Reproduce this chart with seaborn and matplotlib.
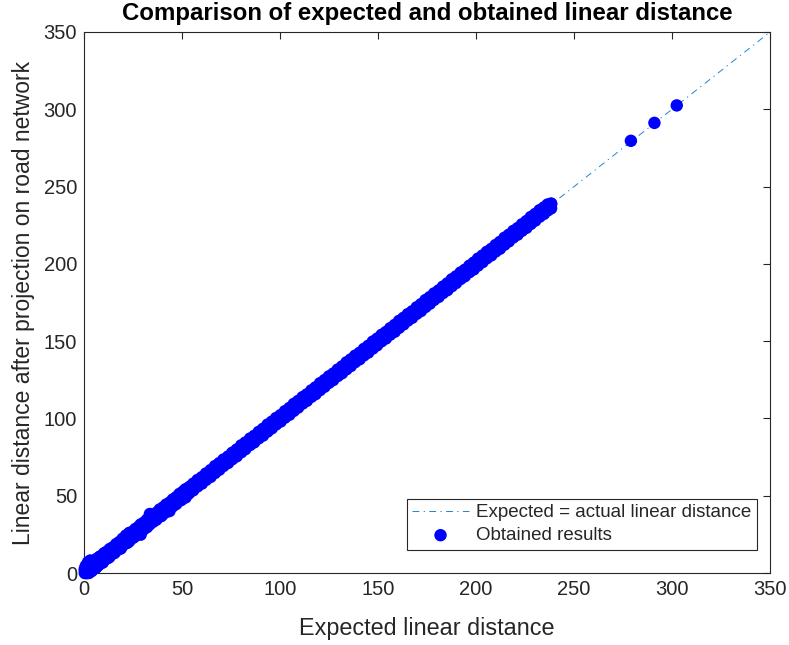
import matplotlib
matplotlib.use("Agg")
import matplotlib.pyplot as plt
import seaborn as sns
import pandas as pd

# Expected vs. obtained linear distances, short range
expected_head = [0.4, 0.9, 1.5, 2.0, 2.6, 3.2, 3.8, 4.4, 5.1, 5.8, 6.5, 7.3, 8.1, 9.0,
                 10.2, 11.6, 13.1, 14.7, 16.4, 18.0, 19.7, 21.4, 23.1, 24.6, 26.2, 27.8,
                 28.9, 30.4, 32.1, 33.6, 35.2, 36.9, 38.6, 40.2, 41.9, 43.6, 45.3, 47.0,
                 48.7, 50.5, 51.8, 53.6]
obtained_head = [1.8, 4.6, 0.7, 6.9, 2.3, 8.1, 1.2, 5.4, 7.8, 3.1, 9.2, 5.0, 10.6, 7.2,
                 12.4, 13.5, 14.8, 16.1, 17.2, 19.9, 20.6, 24.3, 26.0, 22.9, 27.4, 29.1,
                 24.8, 31.2, 33.0, 38.2, 36.0, 37.5, 39.1, 41.0, 42.3, 40.1, 46.2, 47.5,
                 49.6, 51.3, 48.9, 54.4]
obtained_head_upper = [2.7, 2.9, 4.0, 4.1, 5.0, 5.1, 6.1, 6.4, 7.6, 7.9, 8.9, 9.2, 10.4,
                       11.0, 12.7, 13.7, 15.5, 16.6, 18.7, 20.0, 22.2, 23.5, 25.5, 26.5,
                       28.5, 29.8, 31.4, 32.5, 34.5, 35.5, 37.5, 38.9, 41.1, 42.3, 44.3,
                       45.5, 47.6, 49.0, 51.2, 52.6, 54.2, 55.5]
obtained_head_lower = [0.0, 0.0, 0.0, 0.0, 0.1, 1.2, 1.7, 2.0, 3.2, 3.6, 4.0, 5.3, 6.0,
                       6.6, 8.3, 9.4, 10.6, 12.7, 14.3, 15.6, 17.8, 19.2, 20.6, 22.6,
                       24.1, 25.4, 27.0, 28.2, 29.6, 31.6, 33.1, 34.5, 36.7, 38.0, 39.4,
                       41.6, 43.2, 44.6, 46.8, 48.3, 49.3, 51.6]
expected_head2 = [1.1, 2.9, 4.7, 6.2, 7.9, 9.6, 11.0, 12.4, 13.9, 15.5, 17.2, 18.8, 20.5,
                  22.2, 23.8, 25.4, 27.0, 29.6, 31.3, 32.8, 34.4, 36.0, 37.7, 39.4, 41.0,
                  42.7, 44.4, 46.1, 47.8, 49.6, 51.1, 52.7, 54.6]
obtained_head2 = [3.2, 0.9, 6.1, 3.9, 10.1, 6.8, 13.2, 9.8, 15.6, 12.9, 18.6, 15.9, 22.1,
                  19.6, 25.0, 23.1, 28.6, 27.8, 33.0, 30.9, 36.1, 34.2, 39.4, 36.8, 42.8,
                  40.9, 46.0, 44.9, 49.6, 47.2, 53.1, 50.8, 56.3]

# Mid and long range: one expected grid, three runs of obtained values
expected_tail = [55.7, 57.9, 60.1, 62.2, 64.6, 66.8, 69.0, 71.1, 73.5, 75.6, 77.9, 80.2,
                 82.3, 84.7, 86.8, 89.1, 91.3, 93.6, 95.8, 98.0, 100.3, 102.5, 104.8,
                 107.0, 109.2, 111.5, 113.7, 116.0, 118.1, 120.4, 122.7, 124.9, 127.1,
                 129.4, 131.6, 133.9, 136.1, 138.3, 140.6, 142.8, 145.0, 147.3, 149.5,
                 151.8, 154.0, 156.2, 158.5, 160.7, 163.0, 165.2, 167.4, 169.7, 171.9,
                 174.2, 176.4, 178.6, 180.9, 183.1, 185.4, 187.6, 189.8, 192.1, 194.3,
                 196.6, 198.8, 201.0, 203.3, 205.5, 207.8, 210.0, 212.2, 214.5, 216.7,
                 219.0, 221.2, 223.4, 225.7, 227.9, 230.2, 232.4, 234.6, 236.5, 238.3]
obtained_tail = [56.3, 57.4, 60.8, 61.9, 64.1, 67.5, 68.6, 71.8, 73.0, 76.2, 77.5, 80.9,
                 81.8, 85.2, 86.3, 89.7, 90.8, 94.1, 95.4, 98.6, 99.9, 103.0, 104.3,
                 107.6, 108.8, 112.0, 113.2, 116.6, 117.7, 120.9, 122.2, 125.5, 126.7,
                 129.9, 131.1, 134.5, 135.7, 138.9, 140.1, 143.3, 144.6, 147.8, 149.0,
                 152.4, 153.5, 156.8, 158.0, 161.3, 162.5, 165.8, 166.9, 170.3, 171.4,
                 174.8, 175.9, 179.2, 180.4, 183.7, 184.9, 188.2, 189.3, 192.7, 193.8,
                 197.2, 198.3, 201.6, 202.8, 206.1, 207.3, 210.7, 211.7, 215.1, 216.2,
                 219.6, 220.7, 224.1, 225.1, 228.6, 229.6, 233.1, 234.0, 236.9, 238.8]
obtained_upper = [57.8, 60.2, 62.0, 64.4, 66.6, 69.2, 71.1, 73.4, 75.4, 77.8, 79.9, 82.6,
                  84.4, 87.0, 88.7, 91.3, 93.3, 96.0, 97.9, 100.3, 102.2, 104.7, 106.8,
                  109.4, 111.3, 113.8, 115.6, 118.2, 120.1, 122.8, 124.8, 127.2, 129.0,
                  131.6, 133.6, 136.3, 138.2, 140.6, 142.5, 145.0, 147.0, 149.7, 151.6,
                  154.1, 155.9, 158.4, 160.5, 163.1, 165.1, 167.5, 169.3, 171.9, 173.9,
                  176.6, 178.5, 180.9, 182.8, 185.3, 187.4, 190.0, 191.9, 194.4, 196.2,
                  198.8, 200.8, 203.4, 205.4, 207.8, 209.7, 212.2, 214.2, 216.9, 218.8,
                  221.3, 223.1, 225.6, 227.7, 230.3, 232.3, 234.7, 236.5, 238.4, 239.0]
obtained_lower = [53.5, 56.0, 57.8, 60.2, 62.2, 64.7, 66.8, 69.2, 71.2, 73.6, 75.5, 78.1,
                  80.1, 82.8, 84.5, 87.1, 88.9, 91.5, 93.6, 96.1, 98.0, 100.5, 102.4,
                  104.9, 107.0, 109.6, 111.4, 114.0, 115.7, 118.3, 120.5, 123.0, 124.8,
                  127.4, 129.2, 131.8, 133.9, 136.4, 138.3, 140.8, 142.6, 145.2, 147.3,
                  149.9, 151.7, 154.2, 156.1, 158.6, 160.8, 163.3, 165.1, 167.7, 169.5,
                  172.1, 174.2, 176.7, 178.6, 181.1, 183.0, 185.5, 187.6, 190.2, 192.0,
                  194.6, 196.4, 198.9, 201.1, 203.6, 205.5, 208.0, 209.8, 212.4, 214.5,
                  217.1, 218.9, 221.4, 223.3, 225.8, 228.0, 230.5, 232.3, 234.5, 235.9]

# Long-distance cases
expected_far = [279.0, 291.0, 302.4]
obtained_far = [279.6, 291.2, 302.5]

# Reference line y = x
ideal_x = [0, 350]
ideal_y = [0, 350]

ticks = [0, 50, 100, 150, 200, 250, 300, 350]

runs = [
    (expected_head, obtained_head),
    (expected_head, obtained_head_upper),
    (expected_head, obtained_head_lower),
    (expected_head2, obtained_head2),
    (expected_tail, obtained_tail),
    (expected_tail, obtained_upper),
    (expected_tail, obtained_lower),
    (expected_far, obtained_far),
]
results = pd.concat(
    [pd.DataFrame({"expected": ex, "obtained": ob}) for ex, ob in runs],
    ignore_index=True,
)
ideal = pd.DataFrame({"x": ideal_x, "y": ideal_y})

sns.set_style("white")
plt.rcParams["font.family"] = ["Liberation Sans", "DejaVu Sans"]

text_color = "#262626"
fig = plt.figure(figsize=(7.89, 6.45), dpi=100)
ax = fig.add_axes([0.1065, 0.1116, 0.8695, 0.8388])

sns.lineplot(data=ideal, x="x", y="y", ax=ax, color="#1F86CF", linewidth=0.7,
             linestyle=(0, (7, 4.5, 1.3, 4.5)), label="Expected = actual linear distance",
             zorder=2)
sns.scatterplot(data=results, x="expected", y="obtained", ax=ax, color="#0000FF",
                marker="o", s=80, linewidth=0, edgecolor="none",
                label="Obtained results", clip_on=False, zorder=3)

ax.set_xlim(0, 350)
ax.set_ylim(0, 350)
ax.set_xticks(ticks)
ax.set_yticks(ticks)
ax.tick_params(direction="in", length=5, width=0.8, top=True, right=True,
               labelsize=14.5, colors=text_color, pad=5)
for side in ax.spines.values():
    side.set_color(text_color)
    side.set_linewidth(0.8)

ax.set_xlabel("Expected linear distance", fontsize=16.8, color=text_color, labelpad=13)
ax.set_ylabel("Linear distance after projection on road network", fontsize=16.5,
              color=text_color, labelpad=6)
ax.set_title("Comparison of expected and obtained linear distance", fontsize=17.3,
             fontweight="bold", color="black", pad=8.5)

leg = ax.legend(loc="lower right", bbox_to_anchor=(0.981, 0.043), fontsize=13.5,
                frameon=True, fancybox=False, framealpha=1, borderpad=0.3,
                handlelength=3.0, handletextpad=0.4, labelspacing=0.3,
                borderaxespad=0)
leg.get_frame().set_edgecolor(text_color)
leg.get_frame().set_linewidth(0.8)

fig.savefig("out.png", dpi=100)
